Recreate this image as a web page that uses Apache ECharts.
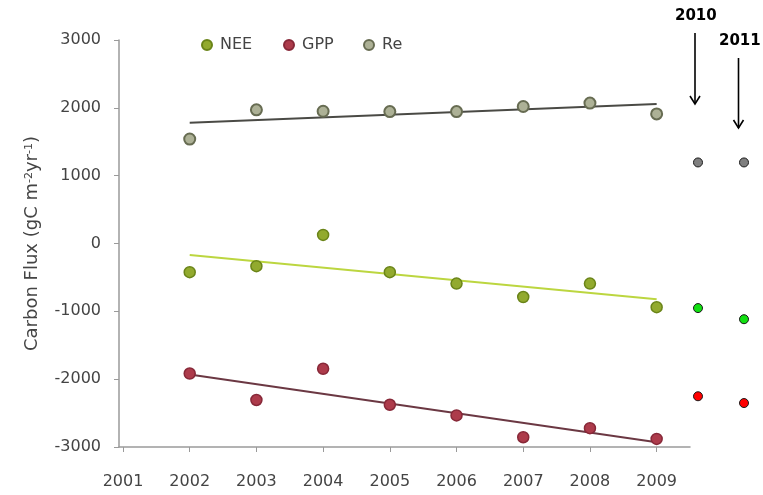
<!DOCTYPE html>
<html>
<head>
<meta charset="utf-8">
<style>
  html, body { margin: 0; padding: 0; background: #ffffff; }
  #chart { width: 763px; height: 495px; }
</style>
<script src="https://cdn.jsdelivr.net/npm/echarts@6/dist/echarts.min.js"></script>
</head>
<body>
<div id="chart"></div>
<script>
// Annual carbon fluxes, 2002-2009
const years = [2002, 2003, 2004, 2005, 2006, 2007, 2008, 2009];
const nee = [-423, -334, 126, -423, -591, -789, -591, -938];
const gpp = [-1917, -2307, -1847, -2377, -2534, -2856, -2722, -2881];
const re  = [1540, 1970, 1950, 1945, 1945, 2020, 2070, 1910];

// Axis ticks
const xTicks = [2001, 2002, 2003, 2004, 2005, 2006, 2007, 2008, 2009];
const yTicks = [-3000, -2000, -1000, 0, 1000, 2000, 3000];

// Later years, shown to the right of the main plot
const laterYears = ['2010', '2011'];
const laterRe  = [1195, 1195];
const laterNee = [-952, -1116];
const laterGpp = [-2252, -2352];

const FONT = 'DejaVu Sans';

// Least-squares line through (years, values), drawn between the first and last year
function linearFit(xs, ys) {
  const n = xs.length;
  const mx = xs.reduce((a, b) => a + b, 0) / n;
  const my = ys.reduce((a, b) => a + b, 0) / n;
  let sxy = 0, sxx = 0;
  for (let i = 0; i < n; i++) {
    sxy += (xs[i] - mx) * (ys[i] - my);
    sxx += (xs[i] - mx) * (xs[i] - mx);
  }
  const k = sxy / sxx;
  const x0 = xs[0], x1 = xs[n - 1];
  return [[x0, my + k * (x0 - mx)], [x1, my + k * (x1 - mx)]];
}

const pairs = (xs, ys) => xs.map((x, i) => [x, ys[i]]);

const chart = echarts.init(document.getElementById('chart'), null, { renderer: 'canvas' });

const legendBase = {
  orient: 'horizontal',
  top: 37,
  padding: 0,
  icon: 'circle',
  itemWidth: 10,
  itemHeight: 10,
  itemGap: 0,
  textStyle: { fontFamily: FONT, fontSize: 16, color: '#444444', padding: [0, 0, 0, 3] }
};

const option = {
  backgroundColor: '#ffffff',
  animation: false,
  textStyle: { fontFamily: FONT },
  legend: [
    Object.assign({}, legendBase, { left: 201, data: ['NEE'] }),
    Object.assign({}, legendBase, { left: 283, data: ['GPP'] }),
    Object.assign({}, legendBase, { left: 363, data: ['Re'] })
  ],
  grid: [
    { left: 119, right: 73, top: 40, bottom: 48, containLabel: false },
    { left: 698, right: 19, top: 40, bottom: 48, containLabel: false }
  ],
  xAxis: [
    {
      gridIndex: 0,
      type: 'value',
      min: 2000.94,
      max: 2009.5,
      axisLine: { show: true, onZero: false, lineStyle: { color: '#9a9a9a', width: 1.5 } },
      axisTick: { show: true, inside: false, length: 5, customValues: xTicks, lineStyle: { color: '#9a9a9a' } },
      axisLabel: {
        customValues: xTicks,
        margin: 27,
        fontFamily: FONT,
        fontSize: 16,
        color: '#444444',
        formatter: v => String(v)
      },
      splitLine: { show: false }
    },
    {
      gridIndex: 1,
      type: 'category',
      data: laterYears,
      boundaryGap: false,
      show: false
    }
  ],
  yAxis: [
    {
      gridIndex: 0,
      type: 'value',
      min: yTicks[0],
      max: yTicks[yTicks.length - 1],
      interval: 1000,
      name: 'Carbon Flux (gC m{sup|-2}yr{sup|-1})',
      nameLocation: 'middle',
      nameGap: 74,
      nameRotate: 90,
      nameTextStyle: {
        fontFamily: FONT,
        fontSize: 18,
        color: '#444444',
        rich: {
          sup: { fontFamily: FONT, fontSize: 11, color: '#444444', verticalAlign: 'top', lineHeight: 12, padding: [0, 0, 9, 0] }
        }
      },
      axisLine: { show: true, lineStyle: { color: '#9a9a9a', width: 1.5 } },
      axisTick: { show: true, inside: false, length: 5, lineStyle: { color: '#9a9a9a' } },
      axisLabel: { margin: 18, fontFamily: FONT, fontSize: 16, color: '#444444', formatter: v => String(v) },
      splitLine: { show: false }
    },
    {
      gridIndex: 1,
      type: 'value',
      min: yTicks[0],
      max: yTicks[yTicks.length - 1],
      show: false
    }
  ],
  series: [
    // Trend lines
    {
      name: 'Re trend', type: 'line', xAxisIndex: 0, yAxisIndex: 0,
      data: linearFit(years, re), symbol: 'none', silent: true,
      lineStyle: { color: '#4a4a45', width: 2 }, z: 2
    },
    {
      name: 'NEE trend', type: 'line', xAxisIndex: 0, yAxisIndex: 0,
      data: linearFit(years, nee), symbol: 'none', silent: true,
      lineStyle: { color: '#bcd640', width: 2 }, z: 2
    },
    {
      name: 'GPP trend', type: 'line', xAxisIndex: 0, yAxisIndex: 0,
      data: linearFit(years, gpp), symbol: 'none', silent: true,
      lineStyle: { color: '#6b3843', width: 2 }, z: 2
    },
    // Annual values
    {
      name: 'NEE', type: 'scatter', xAxisIndex: 0, yAxisIndex: 0,
      data: pairs(years, nee), symbol: 'circle', symbolSize: 11,
      itemStyle: { color: '#92aa2e', borderColor: '#6a8418', borderWidth: 1.5, opacity: 1 }, z: 3
    },
    {
      name: 'GPP', type: 'scatter', xAxisIndex: 0, yAxisIndex: 0,
      data: pairs(years, gpp), symbol: 'circle', symbolSize: 11,
      itemStyle: { color: '#ad3b4b', borderColor: '#872838', borderWidth: 1.5, opacity: 1 }, z: 3
    },
    {
      name: 'Re', type: 'scatter', xAxisIndex: 0, yAxisIndex: 0,
      data: pairs(years, re), symbol: 'circle', symbolSize: 11,
      itemStyle: { color: '#adb196', borderColor: '#676c52', borderWidth: 2, opacity: 1 }, z: 3
    },
    // 2010 and 2011
    {
      name: 'Re later', type: 'scatter', xAxisIndex: 1, yAxisIndex: 1,
      data: laterRe, symbol: 'circle', symbolSize: 9,
      itemStyle: { color: '#7f7f7f', borderColor: '#1a1a1a', borderWidth: 1, opacity: 1 }
    },
    {
      name: 'NEE later', type: 'scatter', xAxisIndex: 1, yAxisIndex: 1,
      data: laterNee, symbol: 'circle', symbolSize: 9,
      itemStyle: { color: '#11e011', borderColor: '#1a1a1a', borderWidth: 1, opacity: 1 }
    },
    {
      name: 'GPP later', type: 'scatter', xAxisIndex: 1, yAxisIndex: 1,
      data: laterGpp, symbol: 'circle', symbolSize: 9,
      itemStyle: { color: '#ff0000', borderColor: '#1a1a1a', borderWidth: 1, opacity: 1 }
    }
  ],
  graphic: [
    {
      type: 'text', left: 675, top: 9,
      style: { text: laterYears[0], fontFamily: FONT, fontWeight: 'bold', fontSize: 15, fill: '#000000' }
    },
    { type: 'line', shape: { x1: 695, y1: 33, x2: 695, y2: 104 }, style: { stroke: '#000000', lineWidth: 1.6 } },
    { type: 'polyline', shape: { points: [[690, 96], [695, 104], [700, 96]] }, style: { stroke: '#000000', lineWidth: 1.6, fill: null } },
    {
      type: 'text', left: 719, top: 34,
      style: { text: laterYears[1], fontFamily: FONT, fontWeight: 'bold', fontSize: 15, fill: '#000000' }
    },
    { type: 'line', shape: { x1: 738.5, y1: 58, x2: 738.5, y2: 128 }, style: { stroke: '#000000', lineWidth: 1.6 } },
    { type: 'polyline', shape: { points: [[733.5, 120], [738.5, 128], [743.5, 120]] }, style: { stroke: '#000000', lineWidth: 1.6, fill: null } }
  ]
};

chart.setOption(option);
</script>
</body>
</html>
